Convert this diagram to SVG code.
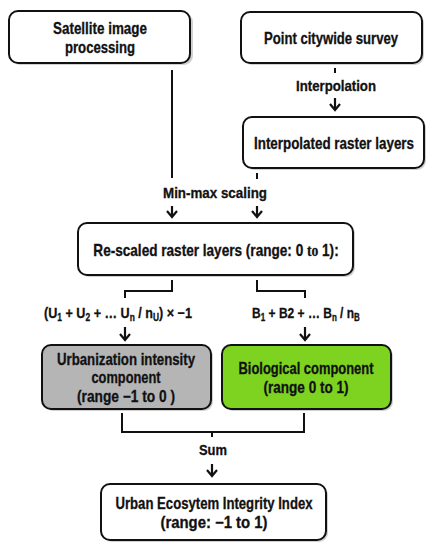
<svg xmlns="http://www.w3.org/2000/svg" width="434" height="550" viewBox="0 0 434 550">
<defs>
<style>
.box{stroke:#111;stroke-width:2;fill:#fff}
.sh{fill:#000;opacity:0.18}
.t{font-family:"Liberation Sans",Arial,sans-serif;font-weight:bold;font-size:16px;fill:#111;stroke:#111;stroke-width:0.3;text-anchor:middle}
.l{font-family:"Liberation Sans",Arial,sans-serif;font-weight:bold;font-size:15px;fill:#111;stroke:#111;stroke-width:0.3;text-anchor:middle}
.c{stroke:#111;stroke-width:2;fill:none}
.ah{stroke:#111;stroke-width:2.2;fill:none;stroke-linecap:butt}
</style>
</defs>
<rect width="434" height="550" fill="#fff"/>
<g id="connectors">
<path class="c" d="M172 70V178"/>
<path class="c" d="M335 68V73"/>
<path class="c" d="M257 173V179"/>
<path class="ah" d="M172 206V217M167 211L172 217L177 211"/>
<path class="ah" d="M257 206V217M252 211L257 217L262 211"/>
<path class="ah" d="M335 98V110M330 104L335 110L340 104"/>
<path class="c" d="M172 280V291H125V298"/>
<path class="c" d="M257 280V291H305V298"/>
<path class="ah" d="M125 327V340M120 334L125 340L130 334"/>
<path class="ah" d="M305 327V340M300 334L305 340L310 334"/>
<path class="c" d="M122 413V432H304V413"/>
<path class="c" d="M212 432V437"/>
<path class="ah" d="M212 464V476M207 470L212 476L217 470"/>
<text class="l" x="336" y="91" textLength="80" lengthAdjust="spacingAndGlyphs">Interpolation</text>
<text class="l" x="215" y="198" textLength="104" lengthAdjust="spacingAndGlyphs">Min-max scaling</text>
<g transform="translate(118 318) scale(0.84 1)">
<text class="l" x="0" y="0">(U<tspan font-size="10" dy="3">1</tspan><tspan dy="-3"> + U</tspan><tspan font-size="10" dy="3">2</tspan><tspan dy="-3"> + … U</tspan><tspan font-size="10" dy="3">n</tspan><tspan dy="-3"> / n</tspan><tspan font-size="10" dy="3">U</tspan><tspan dy="-3">) × −1</tspan></text>
</g>
<g transform="translate(306 318) scale(0.8 1)">
<text class="l" x="0" y="0">B<tspan font-size="10" dy="3">1</tspan><tspan dy="-3"> + B2 + … B</tspan><tspan font-size="10" dy="3">n</tspan><tspan dy="-3"> / n</tspan><tspan font-size="10" dy="3">B</tspan></text>
</g>
<text class="l" x="213" y="455" textLength="28" lengthAdjust="spacingAndGlyphs">Sum</text>
</g>
<g id="satellite">
<rect class="sh" x="11" y="13" width="182" height="52" rx="9"/>
<rect class="box" x="9" y="11" width="181" height="52" rx="9"/>
<text class="t" x="100" y="34" textLength="94" lengthAdjust="spacingAndGlyphs">Satellite image</text>
<text class="t" x="100" y="53" textLength="70" lengthAdjust="spacingAndGlyphs">processing</text>
</g>
<g id="survey">
<rect class="sh" x="243" y="14" width="181" height="51" rx="9"/>
<rect class="box" x="241" y="12" width="181" height="51" rx="9"/>
<text class="t" x="331" y="44" textLength="134" lengthAdjust="spacingAndGlyphs">Point citywide survey</text>
</g>
<g id="interpolated">
<rect class="sh" x="245" y="119" width="181" height="51" rx="9"/>
<rect class="box" x="243" y="117" width="181" height="51" rx="9"/>
<text class="t" x="334" y="149" textLength="160" lengthAdjust="spacingAndGlyphs">Interpolated raster layers</text>
</g>
<g id="rescaled">
<rect class="sh" x="80" y="225" width="275" height="52" rx="9"/>
<rect class="box" x="78" y="223" width="275" height="52" rx="9"/>
<g transform="translate(216 256) scale(0.85 1)">
<text class="t" x="0" y="0">Re-scaled raster layers (range: 0 <tspan font-family="Liberation Serif,serif">to</tspan> 1):</text>
</g>
</g>
<g id="urbanization">
<rect class="sh" x="44" y="347" width="169" height="64" rx="9"/>
<rect class="box" x="42" y="345" width="169" height="64" rx="9" style="fill:#b5b5b5"/>
<text class="t" x="126" y="365" textLength="138" lengthAdjust="spacingAndGlyphs">Urbanization intensity</text>
<text class="t" x="126" y="383" textLength="69" lengthAdjust="spacingAndGlyphs">component</text>
<text class="t" x="126" y="402" textLength="98" lengthAdjust="spacingAndGlyphs">(range −1 to 0 )</text>
</g>
<g id="biological">
<rect class="sh" x="224" y="347" width="169" height="64" rx="9"/>
<rect class="box" x="222" y="345" width="169" height="64" rx="9" style="fill:#7ed321"/>
<text class="t" x="306" y="374" textLength="135" lengthAdjust="spacingAndGlyphs">Biological component</text>
<text class="t" x="306" y="393" textLength="85" lengthAdjust="spacingAndGlyphs">(range 0 to 1)</text>
</g>
<g id="index">
<rect class="sh" x="103" y="486" width="225" height="56" rx="9"/>
<rect class="box" x="101" y="484" width="225" height="56" rx="9"/>
<text class="t" x="214" y="509" textLength="197" lengthAdjust="spacingAndGlyphs">Urban Ecosytem Integrity Index</text>
<text class="t" x="214" y="528" textLength="107" lengthAdjust="spacingAndGlyphs">(range: −1 to 1)</text>
</g>
</svg>
